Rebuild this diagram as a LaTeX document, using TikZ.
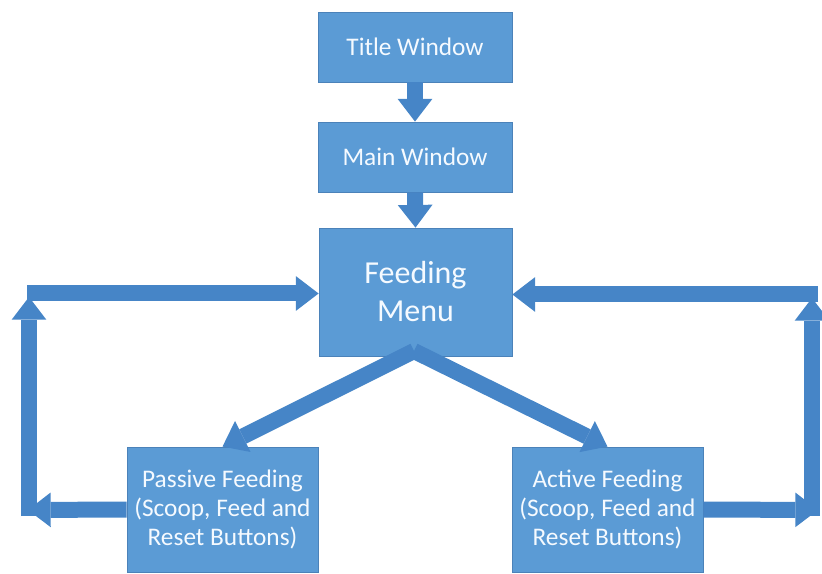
\documentclass[tikz,border=0pt]{standalone}
\usepackage{fontspec}
\setmainfont{Carlito}
\usetikzlibrary{arrows.meta}
\definecolor{boxblue}{RGB}{91,155,213}
\definecolor{boxedge}{RGB}{75,130,185}
\definecolor{arrowblue}{RGB}{70,133,199}
\definecolor{textwhite}{RGB}{245,250,255}
\tikzset{
  box/.style={draw=boxedge, line width=0.6pt, fill=boxblue, text=textwhite,
    align=center, inner sep=0pt, font=\fontsize{19}{22}\selectfont},
  blockarrow/.style={draw=arrowblue, line width=12pt,
    -{Triangle[width=26pt,length=17pt,line width=0pt,fill=arrowblue]}},
}
\begin{document}
\begin{tikzpicture}[x=0.75pt,y=-0.75pt]
\useasboundingbox (0,0) rectangle (822,574);
\node[box, minimum width=145.5pt, minimum height=52.5pt] (title) at (415,47) {Title Window};
\node[box, minimum width=145.5pt, minimum height=52.5pt] (main) at (415,157) {Main Window};
\node[box, minimum width=144.75pt, minimum height=96pt,
      font=\fontsize{24}{28.5}\selectfont] (menu) at (415.5,292) {Feeding\\Menu};
\node[box, minimum width=143.25pt, minimum height=93.75pt] (passive) at (222.5,509.5)
  {Passive Feeding\\(Scoop, Feed and\\Reset Buttons)};
\node[box, minimum width=143.25pt, minimum height=93.75pt] (active) at (607.5,509.5)
  {Active Feeding\\(Scoop, Feed and\\Reset Buttons)};

\coordinate (mb) at (414,351);
\coordinate (ll) at (28,510);
\coordinate (lb) at (29,516);
\coordinate (lt) at (29,297);
\coordinate (ls) at (27,293.5);
\coordinate (rr) at (818,510);
\coordinate (rb) at (812,516);
\coordinate (rt) at (812,298);
\coordinate (rs) at (818,294.5);

\draw[blockarrow] (title.south) -- (main.north);
\draw[blockarrow] (main.south) -- (menu.north);
\draw[blockarrow] (mb) -- (passive.north);
\draw[blockarrow] (mb) -- (active.north);
\draw[blockarrow] (passive.west) -- (ll);
\draw[blockarrow] (lb) -- (lt);
\draw[blockarrow] (ls) -- (ls -| menu.west);
\draw[blockarrow] (active.east) -- (rr);
\draw[blockarrow] (rb) -- (rt);
\draw[blockarrow] (rs) -- (rs -| menu.east);
\end{tikzpicture}
\end{document}
